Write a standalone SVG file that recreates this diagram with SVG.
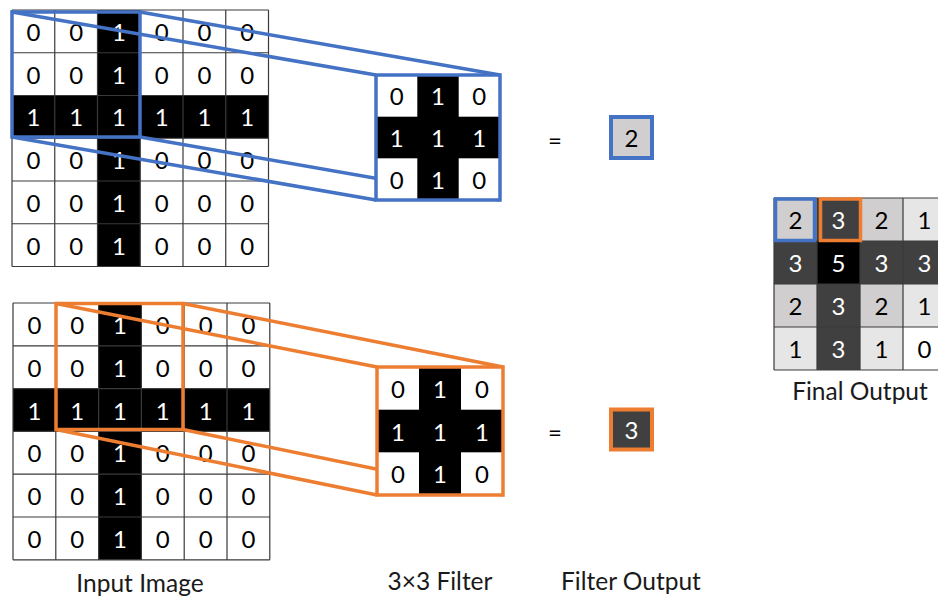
<svg xmlns="http://www.w3.org/2000/svg" width="938" height="598" viewBox="0 0 938 598">
<style>
text{font-family:Lato,"Liberation Sans",sans-serif;font-size:24px;text-anchor:middle;dominant-baseline:central}
.w{fill:#ffffff}
.b{fill:#000000}
.grid{stroke:#3a3a3a;stroke-width:1.2;fill:none}
.blue{stroke:#4472C4;stroke-width:3.5;fill:none}
.orange{stroke:#ED7D31;stroke-width:3.5;fill:none}
.lbl{font-size:24.5px;fill:#1a1a1a;dominant-baseline:alphabetic}
</style>
<rect width="938" height="598" fill="#ffffff"/>

<g id="input-top">
<rect x="12" y="10" width="256.5" height="256.5" class="w"/>
<rect x="97.5" y="10" width="42.75" height="256.5" class="b"/>
<rect x="12" y="95.5" width="256.5" height="42.75" class="b"/>
<path class="grid" d="M12 10V266.5M54.75 10V266.5M97.5 10V266.5M140.25 10V266.5M183 10V266.5M225.75 10V266.5M268.5 10V266.5M12 10H268.5M12 52.75H268.5M12 95.5H268.5M12 138.25H268.5M12 181H268.5M12 223.75H268.5M12 266.5H268.5"/>
<g>
<text x="33.4" y="31.4">0</text><text x="76.1" y="31.4">0</text><text x="118.9" y="31.4" fill="#fff">1</text><text x="161.6" y="31.4">0</text><text x="204.4" y="31.4">0</text><text x="247.1" y="31.4">0</text>
<text x="33.4" y="74.1">0</text><text x="76.1" y="74.1">0</text><text x="118.9" y="74.1" fill="#fff">1</text><text x="161.6" y="74.1">0</text><text x="204.4" y="74.1">0</text><text x="247.1" y="74.1">0</text>
<text x="33.4" y="116.9" fill="#fff">1</text><text x="76.1" y="116.9" fill="#fff">1</text><text x="118.9" y="116.9" fill="#fff">1</text><text x="161.6" y="116.9" fill="#fff">1</text><text x="204.4" y="116.9" fill="#fff">1</text><text x="247.1" y="116.9" fill="#fff">1</text>
<text x="33.4" y="159.6">0</text><text x="76.1" y="159.6">0</text><text x="118.9" y="159.6" fill="#fff">1</text><text x="161.6" y="159.6">0</text><text x="204.4" y="159.6">0</text><text x="247.1" y="159.6">0</text>
<text x="33.4" y="202.4">0</text><text x="76.1" y="202.4">0</text><text x="118.9" y="202.4" fill="#fff">1</text><text x="161.6" y="202.4">0</text><text x="204.4" y="202.4">0</text><text x="247.1" y="202.4">0</text>
<text x="33.4" y="245.1">0</text><text x="76.1" y="245.1">0</text><text x="118.9" y="245.1" fill="#fff">1</text><text x="161.6" y="245.1">0</text><text x="204.4" y="245.1">0</text><text x="247.1" y="245.1">0</text>
</g>
<rect x="12" y="12" width="128" height="125" class="blue"/>
</g>

<g id="input-bottom">
<rect x="13" y="303" width="256.8" height="256.8" class="w"/>
<rect x="98.6" y="303" width="42.8" height="256.8" class="b"/>
<rect x="13" y="388.6" width="256.8" height="42.8" class="b"/>
<path class="grid" d="M13 303V559.8M55.8 303V559.8M98.6 303V559.8M141.4 303V559.8M184.2 303V559.8M227 303V559.8M269.8 303V559.8M13 303H269.8M13 345.8H269.8M13 388.6H269.8M13 431.4H269.8M13 474.2H269.8M13 517H269.8M13 559.8H269.8"/>
<g>
<text x="34.4" y="324.4">0</text><text x="77.2" y="324.4">0</text><text x="120" y="324.4" fill="#fff">1</text><text x="162.8" y="324.4">0</text><text x="205.6" y="324.4">0</text><text x="248.4" y="324.4">0</text>
<text x="34.4" y="367.2">0</text><text x="77.2" y="367.2">0</text><text x="120" y="367.2" fill="#fff">1</text><text x="162.8" y="367.2">0</text><text x="205.6" y="367.2">0</text><text x="248.4" y="367.2">0</text>
<text x="34.4" y="410" fill="#fff">1</text><text x="77.2" y="410" fill="#fff">1</text><text x="120" y="410" fill="#fff">1</text><text x="162.8" y="410" fill="#fff">1</text><text x="205.6" y="410" fill="#fff">1</text><text x="248.4" y="410" fill="#fff">1</text>
<text x="34.4" y="452.8">0</text><text x="77.2" y="452.8">0</text><text x="120" y="452.8" fill="#fff">1</text><text x="162.8" y="452.8">0</text><text x="205.6" y="452.8">0</text><text x="248.4" y="452.8">0</text>
<text x="34.4" y="495.6">0</text><text x="77.2" y="495.6">0</text><text x="120" y="495.6" fill="#fff">1</text><text x="162.8" y="495.6">0</text><text x="205.6" y="495.6">0</text><text x="248.4" y="495.6">0</text>
<text x="34.4" y="538.4">0</text><text x="77.2" y="538.4">0</text><text x="120" y="538.4" fill="#fff">1</text><text x="162.8" y="538.4">0</text><text x="205.6" y="538.4">0</text><text x="248.4" y="538.4">0</text>
</g>
<rect x="56" y="303.5" width="127" height="126" class="orange"/>
</g>

<g id="connectors">
<path class="blue" d="M12 12L376 75M140 12L500 75M12 137L376 200M140 137L500 200"/>
<path class="orange" d="M56 303.5L377 367M183 303.5L503 367M56 429.5L377 495M183 429.5L503 495"/>
</g>

<g id="filter-top">
<rect x="376" y="75" width="124" height="125" class="w"/>
<rect x="417.3" y="75" width="41.4" height="125" class="b"/>
<rect x="376" y="116.7" width="124" height="41.6" class="b"/>
<text x="396.7" y="95.8">0</text><text x="438" y="95.8" fill="#fff">1</text><text x="479.3" y="95.8">0</text>
<text x="396.7" y="137.5" fill="#fff">1</text><text x="438" y="137.5" fill="#fff">1</text><text x="479.3" y="137.5" fill="#fff">1</text>
<text x="396.7" y="179.2">0</text><text x="438" y="179.2" fill="#fff">1</text><text x="479.3" y="179.2">0</text>
<rect x="376" y="75" width="124" height="125" class="blue"/>
</g>

<g id="filter-bottom">
<rect x="377" y="367" width="126" height="128" class="w"/>
<rect x="419" y="367" width="42" height="128" class="b"/>
<rect x="377" y="409.7" width="126" height="42.6" class="b"/>
<text x="398" y="388.3">0</text><text x="440" y="388.3" fill="#fff">1</text><text x="482" y="388.3">0</text>
<text x="398" y="431" fill="#fff">1</text><text x="440" y="431" fill="#fff">1</text><text x="482" y="431" fill="#fff">1</text>
<text x="398" y="473.7">0</text><text x="440" y="473.7" fill="#fff">1</text><text x="482" y="473.7">0</text>
<rect x="377" y="367" width="126" height="128" class="orange"/>
</g>

<g id="equals-top"><text x="555" y="139">=</text></g>
<g id="equals-bottom"><text x="555" y="431">=</text></g>

<g id="output-top">
<rect x="611" y="117" width="41" height="41" fill="#D0CECE" stroke="#4472C4" stroke-width="4"/>
<text x="631.5" y="137.5">2</text>
</g>
<g id="output-bottom">
<rect x="611" y="409.5" width="41" height="40" fill="#404040" stroke="#ED7D31" stroke-width="4"/>
<text x="631.5" y="429.5" fill="#fff">3</text>
</g>

<g id="final-output">
<rect x="774" y="198" width="43" height="43" fill="#D0CECE"/>
<rect x="817" y="198" width="43" height="43" fill="#404040"/>
<rect x="860" y="198" width="43" height="43" fill="#D0CECE"/>
<rect x="903" y="198" width="43" height="43" fill="#E7E6E6"/>
<rect x="774" y="241" width="43" height="43" fill="#404040"/>
<rect x="817" y="241" width="43" height="43" fill="#000000"/>
<rect x="860" y="241" width="43" height="43" fill="#404040"/>
<rect x="903" y="241" width="43" height="43" fill="#404040"/>
<rect x="774" y="284" width="43" height="43" fill="#D0CECE"/>
<rect x="817" y="284" width="43" height="43" fill="#404040"/>
<rect x="860" y="284" width="43" height="43" fill="#D0CECE"/>
<rect x="903" y="284" width="43" height="43" fill="#E7E6E6"/>
<rect x="774" y="327" width="43" height="43" fill="#E7E6E6"/>
<rect x="817" y="327" width="43" height="43" fill="#404040"/>
<rect x="860" y="327" width="43" height="43" fill="#E7E6E6"/>
<rect x="903" y="327" width="43" height="43" fill="#ffffff"/>
<path class="grid" d="M774 198V370M817 198V370M860 198V370M903 198V370M774 198H946M774 241H946M774 284H946M774 327H946M774 370H946"/>
<text x="795.5" y="219.5">2</text><text x="838.5" y="219.5" fill="#fff">3</text><text x="881.5" y="219.5">2</text><text x="924.5" y="219.5">1</text>
<text x="795.5" y="262.5" fill="#fff">3</text><text x="838.5" y="262.5" fill="#fff">5</text><text x="881.5" y="262.5" fill="#fff">3</text><text x="924.5" y="262.5" fill="#fff">3</text>
<text x="795.5" y="305.5">2</text><text x="838.5" y="305.5" fill="#fff">3</text><text x="881.5" y="305.5">2</text><text x="924.5" y="305.5">1</text>
<text x="795.5" y="348.5">1</text><text x="838.5" y="348.5" fill="#fff">3</text><text x="881.5" y="348.5">1</text><text x="924.5" y="348.5">0</text>
<rect x="775.5" y="199" width="39" height="41.5" class="blue"/>
<rect x="820.5" y="199" width="40" height="41.5" class="orange"/>
</g>

<g id="labels">
<text class="lbl" x="140" y="592">Input Image</text>
<text class="lbl" x="440" y="590">3×3 Filter</text>
<text class="lbl" x="631" y="590">Filter Output</text>
<text class="lbl" x="860" y="400">Final Output</text>
</g>
</svg>
